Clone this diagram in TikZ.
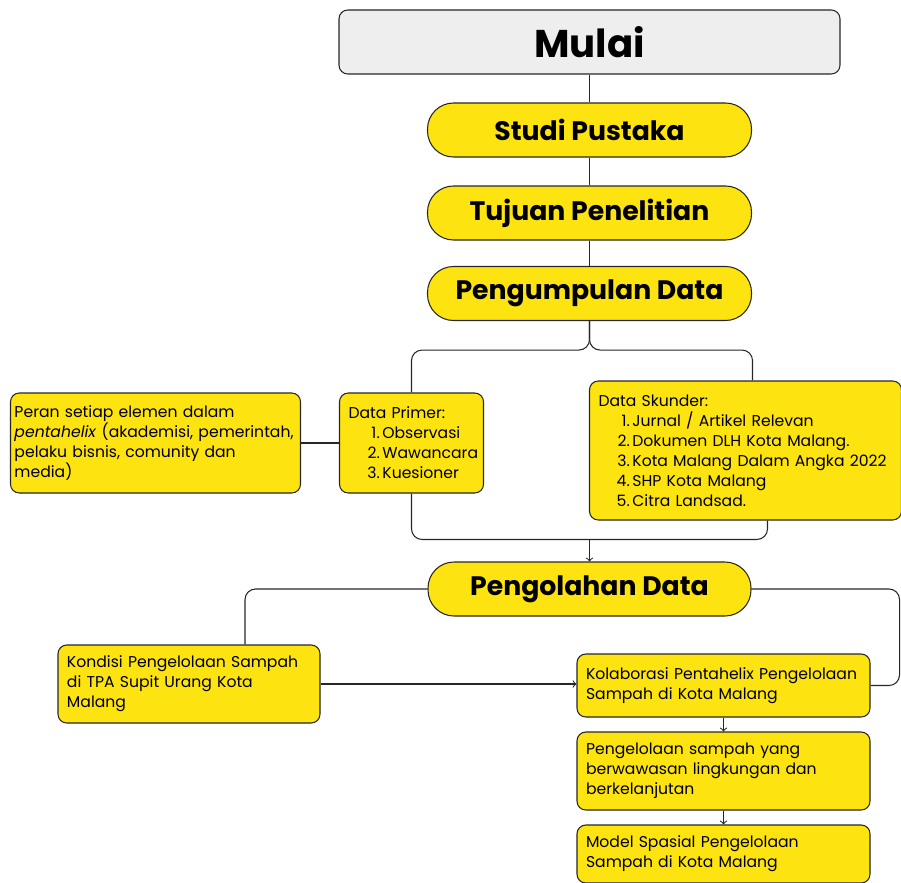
\documentclass[tikz,border=0pt]{standalone}
\usepackage{fontspec}
\setmainfont{Poppins}
\usetikzlibrary{positioning}
\definecolor{kuning}{HTML}{FDE30F}
\definecolor{abu}{HTML}{EEEEEE}
\newcommand{\itm}[2]{\makebox[2em][r]{#1}\,#2}

\begin{document}
\begin{tikzpicture}[on grid,auto,
  every edge/.append style={draw=black!85,line width=0.6pt},
  pill/.style={draw=black!85,line width=0.6pt,fill=kuning,rounded corners=0.52cm,minimum width=6.48cm,minimum height=1.08cm,font=\bfseries\fontsize{15.2}{18}\selectfont},
  box/.style 2 args={draw=black!85,line width=0.6pt,fill=kuning,rounded corners=5pt,inner xsep=0.18cm,align=left,text width=#1,minimum height=#2,font=\fontsize{8.9}{11.4}\selectfont},
  link/.style={draw=black!85,line width=0.6pt,rounded corners=6pt}]
        \useasboundingbox (0,0) rectangle (18.02,-17.64);
        \node[draw=black!85,line width=0.6pt,fill=abu,rounded corners=5pt,minimum width=10.02cm,minimum height=1.28cm,font=\bfseries\fontsize{22}{26}\selectfont] (mulai) at (11.79,-0.84) {Mulai};
        \node[pill] (studi) [below=1.76cm of mulai] {Studi Pustaka};
        \node[pill] (tujuan) [below=1.66cm of studi] {Tujuan Penelitian};
        \node[pill] (kumpul) [below=1.61cm of tujuan] {Pengumpulan Data};
        \node[box={2.52cm}{2cm}] (primer) [below left=2.99cm and 3.56cm of kumpul] {Data Primer:\\ \itm{1.}{Observasi}\\ \itm{2.}{Wawancara}\\ \itm{3.}{Kuesioner}};
        \node[box={5.64cm}{2cm},inner xsep=0.08cm] (peran) [left=5.12cm of primer] {Peran setiap elemen dalam\\ \textit{pentahelix} (akademisi, pemerintah,\\ pelaku bisnis, comunity dan\\ media)};
        \node[box={5.88cm}{2.78cm}] (skunder) [below right=3.14cm and 3.12cm of kumpul] {Data Skunder:\\ \itm{1.}{Jurnal / Artikel Relevan}\\ \itm{2.}{Dokumen DLH Kota Malang.}\\ \itm{3.}{Kota Malang Dalam Angka 2022}\\ \itm{4.}{SHP Kota Malang}\\ \itm{5.}{Citra Landsad.}};
        \node[pill,minimum width=6.46cm] (olah) [below=5.91cm of kumpul] {Pengolahan Data};
        \node[box={4.88cm}{1.56cm}] (kondisi) [below left=1.9cm and 8.01cm of olah] {Kondisi Pengelolaan Sampah\\ di TPA Supit Urang Kota\\ Malang};
        \node[box={5.5cm}{1.26cm}] (kolab) [below right=1.93cm and 2.68cm of olah] {Kolaborasi Pentahelix Pengelolaan\\ Sampah di Kota Malang};
        \node[box={5.5cm}{1.56cm}] (kelola) [below=1.71cm of kolab] {Pengelolaan sampah yang\\ berwawasan lingkungan dan\\ berkelanjutan};
        \node[box={5.5cm}{1.16cm}] (model) [below=1.66cm of kelola] {Model Spasial Pengelolaan\\ Sampah di Kota Malang};
        \path
        (mulai) edge (studi)
        (studi) edge (tujuan)
        (tujuan) edge (kumpul)
        (peran) edge (primer);
        % cabang data
        \coordinate[below=0.58cm of kumpul.south] (cabang);
        \coordinate[right=0.14cm of skunder.north] (kakiatas);
        \coordinate[right=0.44cm of skunder.south] (kakibawah);
        \draw[link] (kumpul.south) |- (cabang -| primer.north) -- (primer.north);
        \draw[link] (kumpul.south) |- (cabang -| kakiatas) -- (kakiatas);
        \coordinate[above=0.44cm of olah.north] (gabung);
        \draw[link] (primer.south) |- (gabung) -| (kakibawah);
        \draw[link,->] (gabung) -- (olah.north);
        % hasil olah
        \coordinate[right=1.12cm of kondisi.north] (kakikiri);
        \draw[link] (olah.west) -| (kakikiri);
        \coordinate[right=0.58cm of kolab.east] (sisi);
        \draw[link] (olah.east) -| (sisi) -- (kolab.east);
        \draw[link,->] (kondisi.east) -- (kondisi.east -| kolab.west);
        \path[->]
        (kolab) edge (kelola)
        (kelola) edge (model);
    \end{tikzpicture}
\end{document}
